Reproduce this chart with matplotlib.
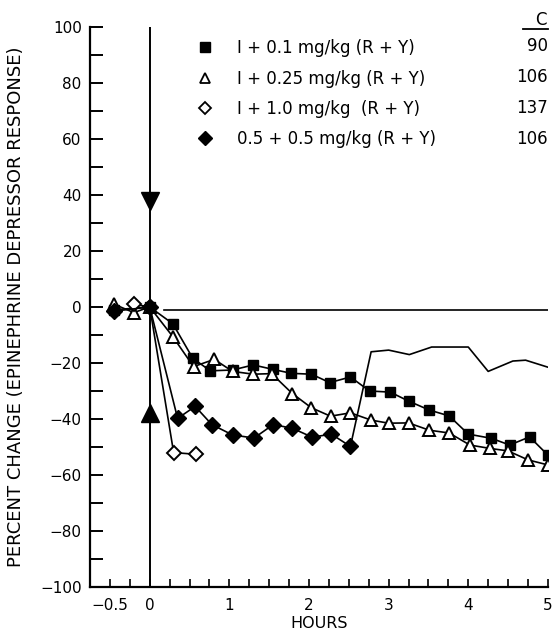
#percent change of epinephrine depressor response vs time
import matplotlib
matplotlib.use('Agg')
from matplotlib import pyplot as plt
from matplotlib.lines import Line2D

#series values
sq_x = [-0.45, 0, 0.29, 0.54, 0.76, 1.04, 1.30, 1.55, 1.78, 2.03, 2.26, 2.52,
        2.76, 3.02, 3.25, 3.51, 3.76, 4.0, 4.29, 4.52, 4.77, 5.0]
sq_y = [-1, 0, -6, -18.3, -22.8, -22.5, -20.7, -22.3, -23.7, -24, -27, -25,
        -30, -30.4, -33.6, -36.8, -38.9, -45.4, -46.9, -49.3, -46.4, -52.9]

tri_x = [-0.45, -0.2, 0, 0.29, 0.55, 0.81, 1.04, 1.30, 1.53, 1.79, 2.03, 2.27,
         2.52, 2.78, 3.0, 3.25, 3.51, 3.76, 4.02, 4.27, 4.5, 4.75, 5.0]
tri_y = [1, -2, 0, -10.6, -21.3, -18.7, -23, -24, -23.8, -30.9, -36, -39,
         -37.8, -40.4, -41.5, -41.4, -44, -45, -49.3, -50.5, -51.4, -54.6, -56.4]

odia_x = [-0.2, 0, 0.30, 0.58]
odia_y = [1, 0, -52, -52.6]

fdia_x = [-0.45, 0, 0.35, 0.57, 0.78, 1.04, 1.31, 1.55, 1.79, 2.04, 2.28, 2.52]
fdia_y = [-1.5, 0, -39.8, -35.5, -42, -45.7, -46.8, -42, -43.3, -46.5, -45.4, -49.8]

#unmarked trace that continues from the last filled diamond
trace_x = [2.52, 2.78, 3.0, 3.26, 3.54, 4.0, 4.25, 4.56, 4.72, 5.0]
trace_y = [-49.8, -16, -15.4, -17, -14.3, -14.3, -23, -19.3, -19, -21.5]

#baseline and dosing markers
base_x = [0.18, 5.0]
base_y = [-1, -1]
dose_x = [0, 0]
dose_y = [38, -38]

labels = ['I + 0.1 mg/kg (R + Y)', 'I + 0.25 mg/kg (R + Y)',
          'I + 1.0 mg/kg  (R + Y)', '0.5 + 0.5 mg/kg (R + Y)']
counts = ['90', '106', '137', '106']

xticks_major = [-0.5, 0, 1, 2, 3, 4, 5]
xtick_labels = ['\u22120.5', '0', '1', '2', '3', '4', '5']
yticks_major = list(range(-100, 101, 20))

plt.rcParams['font.family'] = ['DejaVu Sans']

fig = plt.figure(figsize=(5.54, 6.35), dpi=100)
ax = fig.add_axes([0.1625, 0.0756, 0.8265, 0.8819])

lw = 1.2
ax.plot(trace_x, trace_y, 'k-', linewidth=lw)
ax.plot(base_x, base_y, 'k-', linewidth=lw)
ax.axvline(0, color='k', linewidth=1.4)
ax.plot(dose_x[0], dose_y[0], 'kv', markersize=13)
ax.plot(dose_x[1], dose_y[1], 'k^', markersize=13)

ax.plot(sq_x, sq_y, 'k-', marker='s', markersize=7.5, linewidth=lw, mfc='k', mec='k')
ax.plot(tri_x, tri_y, 'k-', marker='^', markersize=8.5, linewidth=lw, mfc='w', mec='k', mew=1.4)
ax.plot(odia_x, odia_y, 'k-', marker='D', markersize=7, linewidth=lw, mfc='w', mec='k', mew=1.4)
ax.plot(fdia_x, fdia_y, 'k-', marker='D', markersize=8, linewidth=lw, mfc='k', mec='k')

ax.set_xlim(-0.75, 5.0)
ax.set_ylim(-100, 100)

ax.spines['top'].set_visible(False)
ax.spines['right'].set_visible(False)
ax.spines['left'].set_linewidth(1.6)
ax.spines['bottom'].set_linewidth(1.6)

ax.set_xticks(xticks_major)
ax.set_xticklabels(xtick_labels)
ax.set_xticks([t * 0.25 for t in range(-2, 21)], minor=True)
ax.set_yticks(yticks_major)
ax.set_yticklabels([str(v).replace('-', '\u2212') for v in yticks_major])
ax.set_yticks(list(range(-90, 100, 20)), minor=True)
ax.tick_params(axis='y', which='both', direction='in', length=9, width=1.4, labelsize=11, pad=6)
ax.tick_params(axis='x', which='both', direction='in', length=6, width=1.2, labelsize=11, pad=8)

ax.set_ylabel('PERCENT CHANGE (EPINEPHRINE DEPRESSOR RESPONSE)', fontsize=13, labelpad=11)
ax.set_xlabel('HOURS', fontsize=11.5, labelpad=2)

#legend with counts column
handles = [
    Line2D([], [], linestyle='none', marker='s', markersize=7, mfc='k', mec='k'),
    Line2D([], [], linestyle='none', marker='^', markersize=7, mfc='w', mec='k', mew=1.3),
    Line2D([], [], linestyle='none', marker='D', markersize=6, mfc='w', mec='k', mew=1.3),
    Line2D([], [], linestyle='none', marker='D', markersize=7, mfc='k', mec='k'),
]
ax.legend(handles, labels, loc='upper left', bbox_to_anchor=(0.2, 0.99), frameon=False,
          fontsize=12, handletextpad=0.9, labelspacing=0.74, borderaxespad=0)
row_y = [0.966, 0.911, 0.855, 0.800]
for ry, c in zip(row_y, counts):
    ax.text(1.0, ry, c, transform=ax.transAxes, ha='right', va='center', fontsize=12)
ax.text(0.985, 1.013, 'C', transform=ax.transAxes, ha='center', va='center', fontsize=12)
ax.plot([0.945, 1.0], [0.996, 0.996], 'k-', linewidth=1.3, transform=ax.transAxes, clip_on=False)

fig.savefig('out.png', dpi=100)
